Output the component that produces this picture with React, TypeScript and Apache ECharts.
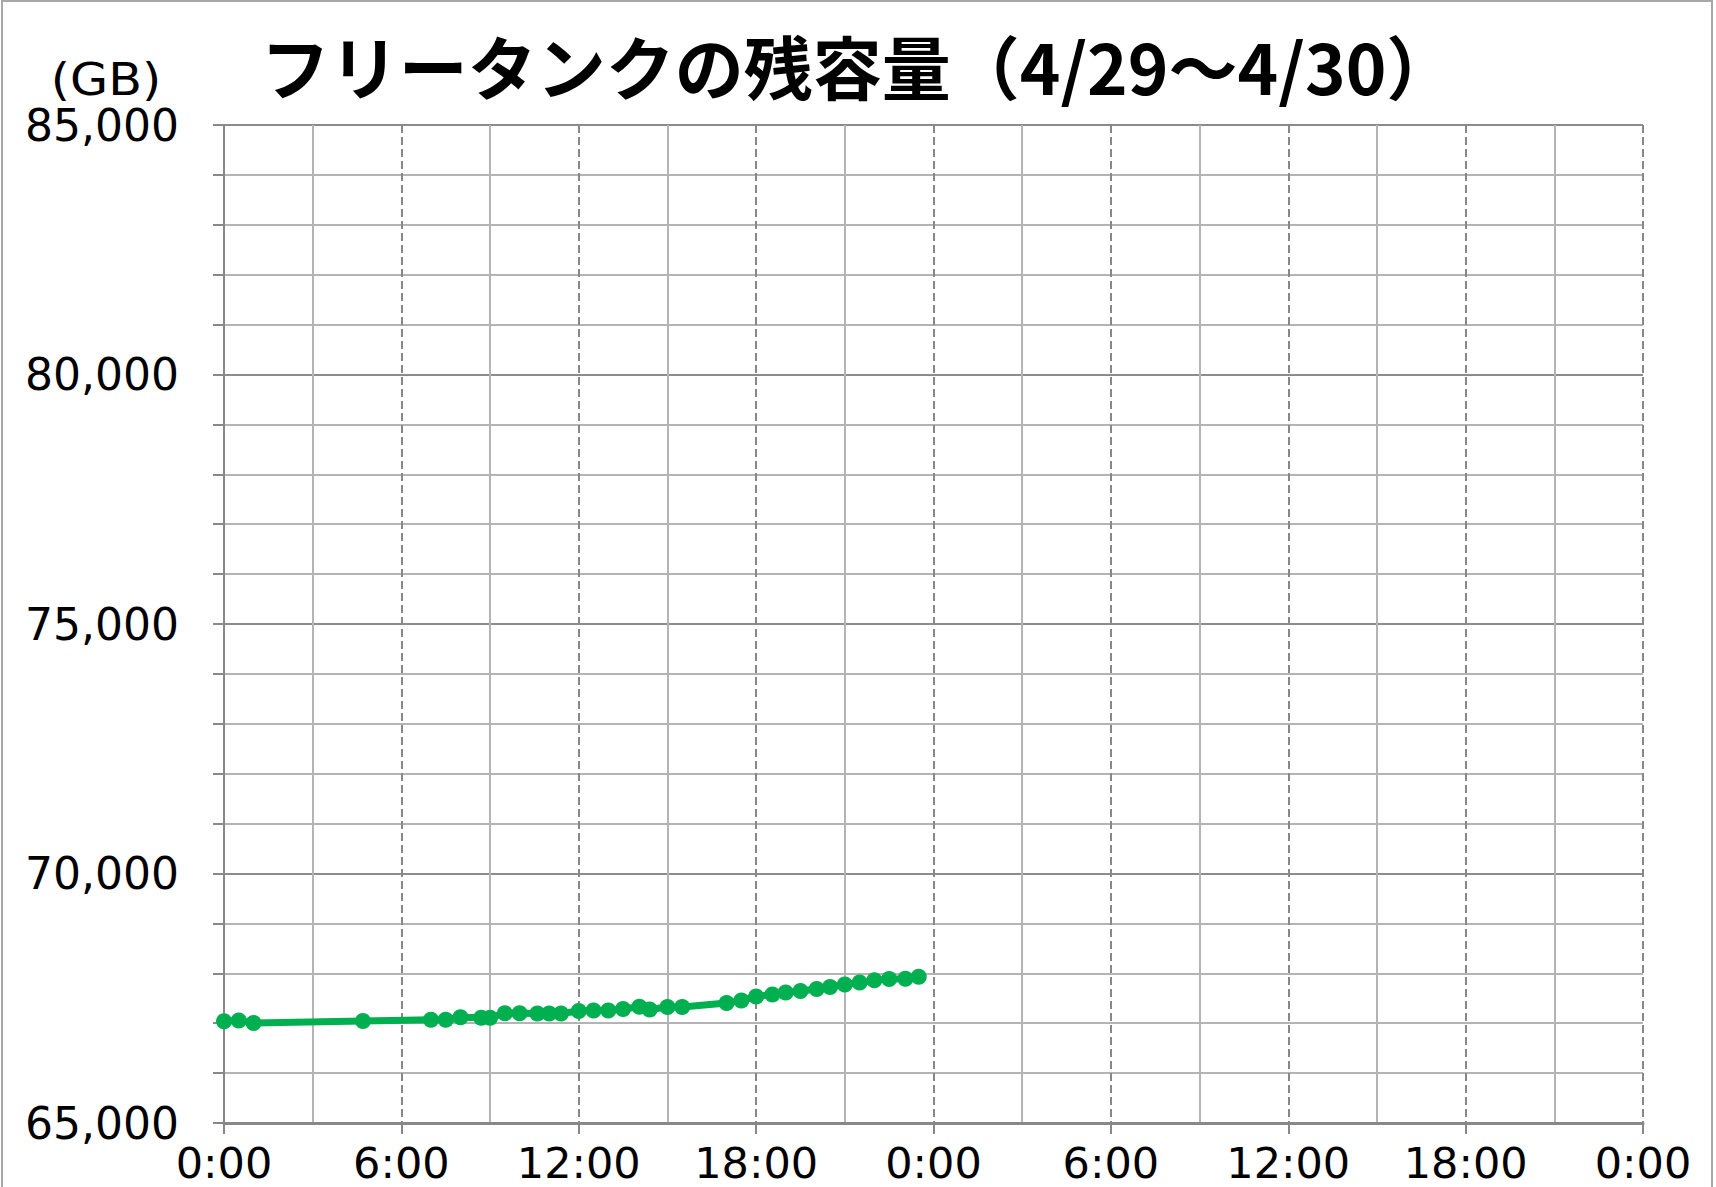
import React, { useEffect, useRef } from "react";
import * as echarts from "echarts";

// Elapsed hours since 4/29 0:00
const hours = [
  0.0, 0.5, 1.0, 4.7, 7.0, 7.5, 8.0, 8.7, 9.0, 9.5, 10.0, 10.6, 11.0, 11.4,
  12.0, 12.5, 13.0, 13.5, 14.05, 14.4, 15.0, 15.5, 17.0, 17.5, 18.0, 18.55,
  19.0, 19.5, 20.05, 20.5, 21.0, 21.5, 22.0, 22.5, 23.05, 23.5,
];
// Free tank remaining capacity (GB)
const freeGB = [
  67040, 67055, 67005, 67045, 67070, 67070, 67120, 67110, 67110, 67200, 67200,
  67195, 67195, 67195, 67245, 67255, 67255, 67285, 67330, 67275, 67325, 67325,
  67405, 67455, 67535, 67575, 67615, 67645, 67685, 67725, 67775, 67815, 67860,
  67885, 67890, 67930,
];

const titleText = "フリータンクの残容量（4/29～4/30）";
const unitText = "(GB)";

export default function App() {
  const ref = useRef<HTMLDivElement>(null);
  useEffect(() => {
    if (!ref.current) return;
    const chart = echarts.init(ref.current, undefined, { renderer: "svg" });
    const data = hours.map((h, i) => [h, freeGB[i]]);
    const labelFont = "'DejaVu Sans', sans-serif";
    chart.setOption({
      animation: false,
      backgroundColor: "#ffffff",
      title: {
        text: titleText,
        left: "center",
        top: 25,
        textStyle: {
          fontSize: 69,
          fontFamily: "'Noto Sans CJK JP', sans-serif",
          fontWeight: "bold",
          color: "#000",
        },
      },
      graphic: [
        {
          type: "rect",
          shape: { x: 2, y: 1, width: 1710, height: 1220 },
          style: { fill: "none", stroke: "#a8a8a8", lineWidth: 2 },
          silent: true,
        },
        {
          type: "text",
          x: 106,
          y: 80,
          scaleX: 1.12,
          style: {
            text: unitText,
            fontSize: 44,
            fontFamily: "'DejaVu Sans', sans-serif",
            fill: "#000",
            textAlign: "center",
            textVerticalAlign: "middle",
          },
        },
      ],
      grid: { left: 224, right: 73, top: 125, bottom: 64 },
      xAxis: {
        type: "value",
        min: 0,
        max: 48,
        interval: 6,
        axisLine: { show: true, lineStyle: { color: "#888", width: 3 } },
        axisTick: { show: true, length: 11, lineStyle: { color: "#888", width: 2 } },
        axisLabel: {
          formatter: (v: number) => `${v % 24}:00`,
          fontSize: 43,
          fontFamily: labelFont,
          color: "#000",
          margin: 18,
        },
        splitLine: { show: true, lineStyle: { color: "#888", width: 2, type: [8, 4] } },
        minorTick: { show: false, splitNumber: 2 },
        minorSplitLine: { show: true, lineStyle: { color: "#b4b4b4", width: 2 } },
      },
      yAxis: {
        type: "value",
        min: 65000,
        max: 85000,
        interval: 5000,
        axisLine: { show: true, lineStyle: { color: "#888", width: 2 } },
        axisTick: { show: true, length: 11, lineStyle: { color: "#888", width: 2 } },
        minorTick: { show: true, splitNumber: 5, length: 11, lineStyle: { color: "#888", width: 2 } },
        axisLabel: {
          formatter: (v: number) => v.toLocaleString("en-US"),
          fontSize: 44,
          fontFamily: labelFont,
          color: "#000",
          margin: 45,
        },
        splitLine: { show: true, lineStyle: { color: "#8c8c8c", width: 2 } },
        minorSplitLine: { show: true, lineStyle: { color: "#b4b4b4", width: 2 } },
      },
      series: [
        {
          type: "line",
          data,
          symbol: "circle",
          symbolSize: 16,
          lineStyle: { color: "#00B050", width: 7 },
          itemStyle: { color: "#00B050" },
          z: 5,
        },
      ],
    });
    return () => chart.dispose();
  }, []);
  return (
    <div
      ref={ref}
      style={{ position: "fixed", left: 0, top: 0, width: 1716, height: 1187, background: "#fff" }}
    />
  );
}
